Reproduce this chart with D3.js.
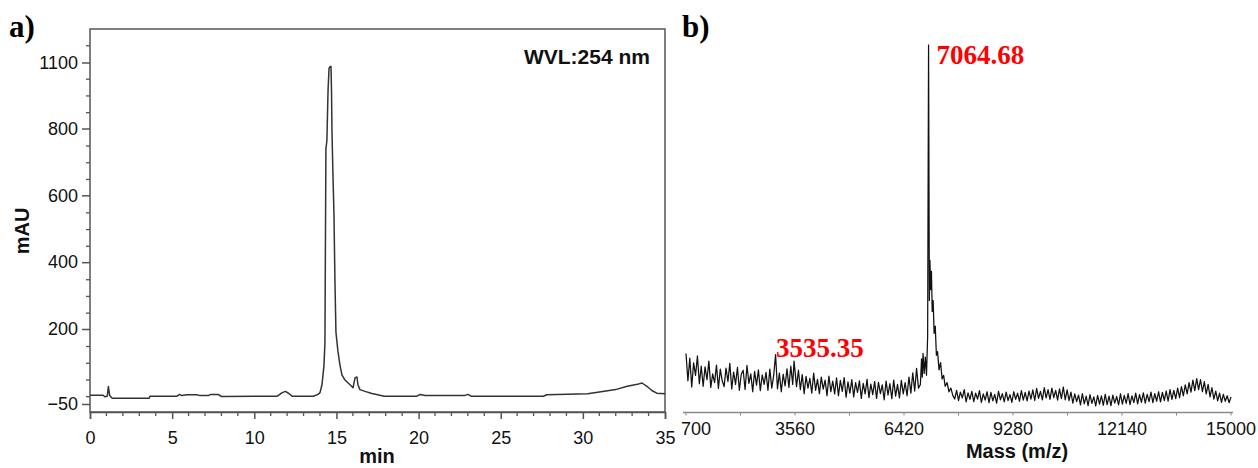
<!DOCTYPE html>
<html>
<head>
<meta charset="utf-8">
<script src="https://cdn.jsdelivr.net/npm/d3@7"></script>
<style>
  body { margin: 0; background: #fff; }
  svg { display: block; }
  .sans { font-family: "Liberation Sans", Arial, sans-serif; }
  .serif { font-family: "Liberation Serif", "Times New Roman", serif; }
</style>
</head>
<body>
<svg id="fig" width="1258" height="468"></svg>
<script>
// ---- Panel a: HPLC chromatogram at 254 nm ----
const hplcTime = [0, 0.8, 0.9, 1.05, 1.12, 1.2, 1.35, 3.6, 3.65, 5.3, 5.45, 5.6, 5.9, 6.5, 6.7, 7.2, 7.35, 7.8, 8.0,
  11.4, 11.7, 11.9, 12.1, 12.3, 13.6, 13.88, 14.0, 14.12, 14.24, 14.30, 14.36, 14.42, 14.49, 14.55, 14.61, 14.67,
  14.70, 14.73, 14.79, 14.85, 14.91, 14.97, 15.09, 15.22, 15.34, 15.52, 15.70, 15.89, 16.01, 16.13, 16.25, 16.31,
  16.43, 16.74, 17.16, 17.65, 17.9, 19.9, 20.1, 20.4, 22.8, 23.0, 23.2, 27.6, 27.8, 30.3, 30.9, 32.0, 32.7, 33.4,
  33.6, 33.9, 34.2, 34.5, 35];
const hplcMAU = [-21, -21, -26, -24, 8, -22, -31, -31, -24, -24, -18, -22, -19, -19, -22, -22, -18, -18, -25,
  -24, -12, -8, -15, -24, -24, -18, -12, 14, 78, 152, 740, 764, 973, 1073, 1082, 1082,
  973, 788, 658, 544, 342, 190, 126, 78, 46, 30, 21, 11, 4, 37, 40, 14,
  -2, -8, -15, -21, -24, -24, -18, -22, -22, -18, -24, -24, -19, -16, -11, -2, 9, 17,
  20, 9, -5, -14, -16];
const hplcXTicks = [0, 5, 10, 15, 20, 25, 30, 35];
const hplcYTicks = [1100, 800, 600, 400, 200, -50];

// ---- Panel b: MALDI-TOF mass spectrum (relative intensity, %) ----
const msStep = 50;
const msLowStart = 700;        // 700 ... 6800 m/z
const msLowInt = [
  15.5, 8.0, 14.2, 6.3, 12.9, 9.5, 14.8, 7.2, 12.0, 6.5,
  11.8, 8.3, 13.4, 6.2, 9.9, 7.5, 12.3, 5.9, 11.2, 8.0,
  6.4, 11.5, 7.8, 12.8, 5.8, 10.4, 7.0, 11.7, 5.4, 9.8,
  10.9, 5.6, 12.2, 7.3, 9.9, 5.0, 10.6, 6.8, 11.0, 5.3,
  9.6, 7.0, 10.3, 5.4, 11.2, 6.0, 9.4, 15.2, 5.8, 10.1,
  5.0, 9.8, 6.6, 11.3, 6.2, 12.0, 7.0, 11.8, 6.4, 10.9,
  5.6, 9.7, 4.5, 9.2, 6.0, 8.7, 4.6, 10.1, 5.4, 8.4,
  4.5, 9.0, 5.7, 8.2, 3.9, 9.3, 5.0, 7.9, 4.4, 8.8,
  3.9, 8.1, 5.1, 8.9, 3.5, 7.7, 4.6, 8.3, 3.6, 7.5,
  4.8, 8.0, 3.2, 7.3, 4.4, 8.4, 3.4, 7.1, 4.2, 7.8,
  3.2, 7.6, 4.5, 6.9, 2.8, 7.9, 4.1, 7.2, 3.1, 8.2,
  3.8, 7.0, 3.3, 8.1, 4.4, 7.5, 3.9, 9.0, 4.6, 10.2,
  5.2, 11.4, 6.0];
// molecular-ion region, 6850 ... 7700 m/z
const msPeakMass = [6850, 6880, 6900, 6920, 6950, 6980, 7010, 7040, 7085, 7100, 7120, 7140, 7160, 7185,
  7210, 7240, 7270, 7300, 7340, 7380, 7420, 7460, 7500, 7550, 7600, 7650, 7700];
const msPeakInt = [7.0, 14.0, 9.0, 15.5, 10.0, 14.5, 9.5, 20, 30, 41, 33, 38, 27, 30,
  21, 23, 15, 16, 11, 13, 8.5, 9.5, 6.5, 7.5, 5.0, 6.0, 4.0];
const msHighStart = 7750;      // 7750 ... 15000 m/z
const msHighInt = [
  3.0, 5.4, 2.6, 4.9, 3.3, 5.6, 2.2, 4.7, 2.9, 5.1,
  2.3, 4.6, 3.0, 5.3, 2.1, 4.4, 2.7, 5.0, 2.0, 4.8,
  2.5, 4.3, 1.9, 5.1, 2.8, 4.5, 2.2, 4.9, 2.6, 4.2,
  2.1, 5.0, 2.9, 4.6, 2.4, 5.3, 2.7, 4.8, 2.5, 5.2,
  3.0, 5.5, 2.6, 5.9, 3.2, 5.1, 2.8, 6.1, 3.3, 5.6,
  2.9, 6.0, 3.4, 5.4, 2.7, 5.8, 3.1, 6.3, 2.8, 5.5,
  2.6, 4.9, 1.9, 4.4, 2.3, 4.1, 1.4, 4.5, 1.7, 3.8,
  1.2, 4.2, 1.8, 3.6, 1.1, 4.0, 1.6, 3.9, 1.3, 4.3,
  1.5, 3.8, 1.2, 4.1, 1.9, 3.7, 1.4, 4.4, 1.6, 4.0,
  1.8, 4.5, 1.5, 3.9, 2.0, 4.6, 1.7, 4.2, 2.1, 4.7,
  1.9, 4.3, 2.3, 4.9, 2.0, 4.5, 2.4, 5.0, 2.2, 4.8,
  2.6, 5.2, 2.4, 5.6, 2.9, 5.4, 3.1, 6.0, 3.4, 6.4,
  3.9, 6.9, 4.4, 7.5, 4.9, 8.2, 5.3, 8.6, 5.6, 8.3,
  5.0, 7.8, 4.4, 7.0, 3.6, 6.1, 3.0, 5.2, 2.5, 4.6,
  2.1, 4.3, 2.4, 3.9, 2.0, 3.6];
const msLabelMass = [3535.35, 7064.68];
const msLabelInt = [13.4, 100];
const msXTicks = [700, 3560, 6420, 9280, 12140, 15000];

const svg = d3.select("#fig");
svg.append("rect").attr("width", 1258).attr("height", 468).attr("fill", "#fff");

// ================= Panel a =================
const A = { left: 90, right: 665, top: 29, bottom: 412 };
const xA = d3.scaleLinear().domain([0, 35]).range([A.left, A.right]);
// the printed mAU axis is not uniform, so the scale is piecewise
const yA = d3.scaleLinear().domain([-50, 200, 800, 1100]).range([404, 329, 128.5, 62.5]);

const gA = svg.append("g");
const axisCol = "#555";

// frame
gA.append("rect")
  .attr("x", A.left).attr("y", A.top)
  .attr("width", A.right - A.left).attr("height", A.bottom - A.top)
  .attr("fill", "none").attr("stroke", axisCol).attr("stroke-width", 1.5);

// x axis
const xAxisA = d3.axisBottom(xA).tickValues(hplcXTicks).tickSize(7).tickPadding(12).tickFormat(d3.format("d"));
const gxA = gA.append("g").attr("transform", `translate(0,${A.bottom})`).call(xAxisA);
gxA.select(".domain").attr("stroke", axisCol).attr("stroke-width", 1.5);
gxA.selectAll(".tick line").attr("stroke", axisCol).attr("stroke-width", 1.5);
gxA.selectAll(".tick text").attr("class", "sans").attr("font-size", 18).attr("fill", "#111");
// minute minor ticks
gA.append("g").selectAll("line")
  .data(d3.range(0, 36).filter(d => d % 5 !== 0))
  .join("line")
  .attr("x1", d => xA(d)).attr("x2", d => xA(d))
  .attr("y1", A.bottom).attr("y2", A.bottom + 4)
  .attr("stroke", axisCol).attr("stroke-width", 1.3);

// y axis
const yAxisA = d3.axisLeft(yA).tickValues(hplcYTicks).tickSize(8).tickPadding(4).tickFormat(d3.format("d"));
const gyA = gA.append("g").attr("transform", `translate(${A.left},0)`).call(yAxisA);
gyA.select(".domain").remove();
gyA.selectAll(".tick line").attr("stroke", axisCol).attr("stroke-width", 1.5);
gyA.selectAll(".tick text").attr("class", "sans").attr("font-size", 18).attr("fill", "#111");
// minor ticks, a quarter of a major step apart
const minorStep = (yA(200) - yA(800)) / 12;
const minorY = d3.range(-1, 21).filter(k => !(k >= 0 && k <= 16 && k % 4 === 0))
  .map(k => yA(1100) + k * minorStep);
gA.append("g").selectAll("line")
  .data(minorY)
  .join("line")
  .attr("x1", A.left - 4).attr("x2", A.left)
  .attr("y1", d => d).attr("y2", d => d)
  .attr("stroke", axisCol).attr("stroke-width", 1.3);

// trace
const hplcData = hplcTime.map((t, i) => [t, hplcMAU[i]]);
gA.append("path")
  .datum(hplcData)
  .attr("fill", "none")
  .attr("stroke", "#333")
  .attr("stroke-width", 1.5)
  .attr("stroke-linejoin", "round")
  .attr("d", d3.line().x(d => xA(d[0])).y(d => yA(d[1])));

// titles
gA.append("text").attr("class", "sans")
  .attr("transform", "translate(29,231) rotate(-90)")
  .attr("text-anchor", "middle").attr("font-size", 20).attr("font-weight", "bold")
  .attr("fill", "#111").text("mAU");
gA.append("text").attr("class", "sans")
  .attr("x", 377).attr("y", 463)
  .attr("text-anchor", "middle").attr("font-size", 20).attr("font-weight", "bold")
  .attr("fill", "#111").text("min");
gA.append("text").attr("class", "sans")
  .attr("x", 650).attr("y", 64)
  .attr("text-anchor", "end").attr("font-size", 21).attr("font-weight", "bold")
  .attr("fill", "#111").text("WVL:254 nm");
gA.append("text").attr("class", "serif")
  .attr("x", 9).attr("y", 37)
  .attr("font-size", 31).attr("font-weight", "bold")
  .attr("fill", "#000").text("a)");

// ================= Panel b =================
const B = { left: 683, right: 1233, bottom: 412.5 };
const xB = d3.scaleLinear().domain([700, 15000]).range([686, 1231]);
const yB = d3.scaleLinear().domain([0, 100]).range([410, 45]);

const gB = svg.append("g");
const axisColB = "#8a8a8a";

gB.append("line")
  .attr("x1", B.left).attr("x2", B.right)
  .attr("y1", B.bottom).attr("y2", B.bottom)
  .attr("stroke", axisColB).attr("stroke-width", 1.3);
gB.append("g").selectAll("line")
  .data(d3.range(700, 15001, 1430))
  .join("line")
  .attr("x1", d => xB(d)).attr("x2", d => xB(d))
  .attr("y1", B.bottom).attr("y2", B.bottom + 3)
  .attr("stroke", axisColB).attr("stroke-width", 1);
gB.append("g").selectAll("text")
  .data(msXTicks)
  .join("text")
  .attr("class", "sans")
  .attr("x", (d, i) => xB(d) + (i === 0 ? 10 : 0))
  .attr("y", 435)
  .attr("text-anchor", "middle")
  .attr("font-size", 18).attr("fill", "#111")
  .text(d => d);

// spectrum
const msPts = [];
msLowInt.forEach((v, i) => msPts.push([msLowStart + i * msStep, v]));
msHighInt.forEach((v, i) => msPts.push([msHighStart + i * msStep, v]));
msPeakMass.forEach((m, i) => msPts.push([m, msPeakInt[i]]));
msLabelMass.forEach((m, i) => msPts.push([m, msLabelInt[i]]));
msPts.sort((a, b) => a[0] - b[0]);

gB.append("path")
  .datum(msPts)
  .attr("fill", "none")
  .attr("stroke", "#111")
  .attr("stroke-width", 1.25)
  .attr("stroke-linejoin", "round")
  .attr("d", d3.line().x(d => xB(d[0])).y(d => yB(d[1])));

// peak annotations
gB.append("g").selectAll("text")
  .data(msLabelMass.map((m, i) => [m, msLabelInt[i]]))
  .join("text")
  .attr("class", "serif")
  .attr("x", d => d[1] >= 50 ? xB(d[0]) + 8 : xB(d[0]) - 18)
  .attr("y", d => d[1] >= 50 ? yB(d[1]) + 19 : yB(d[1]) - 4)
  .attr("font-size", 27).attr("font-weight", "bold")
  .attr("fill", "#ff0000")
  .text(d => d[0].toFixed(2));

gB.append("text").attr("class", "sans")
  .attr("x", 1017).attr("y", 458)
  .attr("text-anchor", "middle").attr("font-size", 20).attr("font-weight", "bold")
  .attr("fill", "#111").text("Mass (m/z)");
gB.append("text").attr("class", "serif")
  .attr("x", 682).attr("y", 37)
  .attr("font-size", 31).attr("font-weight", "bold")
  .attr("fill", "#000").text("b)");
</script>
</body>
</html>
